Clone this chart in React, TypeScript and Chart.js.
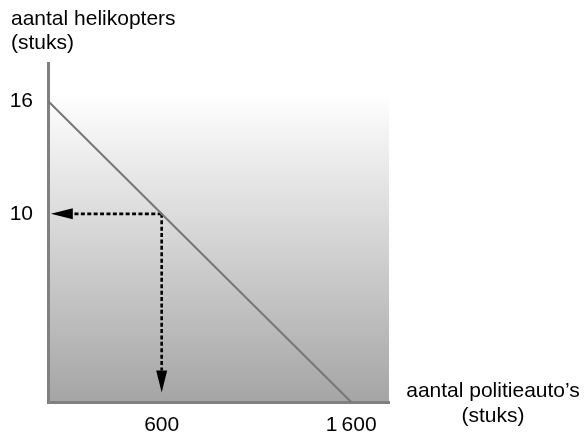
import React, { useEffect, useRef } from "react";
import { Chart, registerables } from "chart.js";

Chart.register(...registerables);

// ---- data ----
const X_MAX = 1800;
const Y_MAX = 18;
const X_TICKS = [600, 1600];
const X_TICK_LABELS = ["600", "1\u2009600"];
const Y_TICKS = [10, 16];
const Y_TICK_LABELS = ["10", "16"];
const FRONTIER_X = [0, 1600];
const FRONTIER_Y = [16, 0];
const CHOICE_X = 600;
const CHOICE_Y = 10;
const ARROW_TIP_X = 15;
const ARROW_TIP_Y = 0.5;
const SHADE_TOP = 16.4;
const Y_TITLE = ["aantal helikopters", "(stuks)"];
const X_TITLE = ["aantal politieauto\u2019s", "(stuks)"];

const FONT_FAMILY = "'Liberation Sans', Arial, Helvetica, sans-serif";
const FONT_SIZE = 21;

const shadePlugin = {
  id: "shade",
  beforeDraw(chart: any) {
    const { ctx } = chart;
    const xs = chart.scales.x;
    const ys = chart.scales.y;
    const l = xs.getPixelForValue(0);
    const r = xs.getPixelForValue(X_MAX);
    const t = ys.getPixelForValue(SHADE_TOP);
    const b = ys.getPixelForValue(0);
    const g = ctx.createLinearGradient(0, t, 0, b);
    g.addColorStop(0, "#ffffff");
    g.addColorStop(1, "#a5a5a5");
    ctx.save();
    ctx.fillStyle = g;
    ctx.fillRect(l, t, r - l, b - t);
    ctx.restore();
  },
};

const ARROW_LEN = 22;
const ARROW_HALF = 5.5;

function arrowGeom(meta: any) {
  const pts = meta.data;
  const p0 = pts[0];
  const p1 = pts[pts.length - 1];
  let dx = p1.x - p0.x;
  let dy = p1.y - p0.y;
  const len = Math.hypot(dx, dy) || 1;
  dx /= len;
  dy /= len;
  const bx = p1.x - dx * ARROW_LEN;
  const by = p1.y - dy * ARROW_LEN;
  return { tx: p1.x, ty: p1.y, dx, dy, nx: -dy, ny: dx, bx, by };
}

const arrowPlugin = {
  id: "arrowheads",
  beforeDatasetDraw(chart: any, args: any) {
    const ds = chart.data.datasets[args.index];
    if (!ds.arrow) return;
    const { ctx } = chart;
    const g = arrowGeom(args.meta);
    const B = 10000;
    ctx.save();
    ctx.beginPath();
    ctx.moveTo(g.bx + g.nx * B, g.by + g.ny * B);
    ctx.lineTo(g.bx + g.nx * B - g.dx * B, g.by + g.ny * B - g.dy * B);
    ctx.lineTo(g.bx - g.nx * B - g.dx * B, g.by - g.ny * B - g.dy * B);
    ctx.lineTo(g.bx - g.nx * B, g.by - g.ny * B);
    ctx.closePath();
    ctx.clip();
  },
  afterDatasetDraw(chart: any, args: any) {
    const ds = chart.data.datasets[args.index];
    if (!ds.arrow) return;
    const { ctx } = chart;
    ctx.restore();
    const g = arrowGeom(args.meta);
    ctx.save();
    ctx.fillStyle = "#000";
    ctx.beginPath();
    ctx.moveTo(g.tx, g.ty);
    ctx.lineTo(g.bx + g.nx * ARROW_HALF, g.by + g.ny * ARROW_HALF);
    ctx.lineTo(g.bx - g.nx * ARROW_HALF, g.by - g.ny * ARROW_HALF);
    ctx.closePath();
    ctx.fill();
    ctx.restore();
  },
};

const xTitlePlugin = {
  id: "xTitle",
  afterDraw(chart: any) {
    const { ctx, chartArea } = chart;
    ctx.save();
    ctx.fillStyle = "#000";
    ctx.font = `${FONT_SIZE}px ${FONT_FAMILY}`;
    ctx.textAlign = "center";
    ctx.textBaseline = "middle";
    const cx = chartArea.right + 104;
    X_TITLE.forEach((line, i) => {
      ctx.fillText(line, cx, chartArea.bottom - 10.5 + i * 25);
    });
    ctx.restore();
  },
};

export default function App() {
  const ref = useRef<HTMLCanvasElement | null>(null);

  useEffect(() => {
    if (!ref.current) return;
    Chart.defaults.font.family = FONT_FAMILY;
    const chart = new Chart(ref.current, {
      type: "scatter",
      data: {
        datasets: [
          {
            label: "frontier",
            data: FRONTIER_X.map((x, i) => ({ x, y: FRONTIER_Y[i] })),
            showLine: true,
            borderColor: "#777777",
            borderWidth: 2,
            pointRadius: 0,
            clip: false,
          },
          {
            label: "to y",
            data: [
              { x: CHOICE_X, y: CHOICE_Y },
              { x: ARROW_TIP_X, y: CHOICE_Y },
            ],
            showLine: true,
            borderColor: "#000",
            borderWidth: 2.6,
            borderDash: [4, 2.4],
            pointRadius: 0,
            arrow: true,
          } as any,
          {
            label: "to x",
            data: [
              { x: CHOICE_X, y: CHOICE_Y },
              { x: CHOICE_X, y: ARROW_TIP_Y },
            ],
            showLine: true,
            borderColor: "#000",
            borderWidth: 2.6,
            borderDash: [4, 2.4],
            pointRadius: 0,
            arrow: true,
          } as any,
        ],
      },
      options: {
        animation: false,
        responsive: true,
        maintainAspectRatio: false,
        layout: { padding: { left: 11, right: 198, top: 0, bottom: 0 } },
        plugins: {
          legend: { display: false },
          tooltip: { enabled: false },
          title: {
            display: true,
            text: Y_TITLE,
            align: "start",
            color: "#000",
            font: { family: FONT_FAMILY, size: FONT_SIZE, weight: "normal", lineHeight: 1.15 },
            padding: { top: 7, bottom: 8 },
          },
        },
        scales: {
          x: {
            type: "linear",
            min: 0,
            max: X_MAX,
            grid: { display: false, drawTicks: false },
            border: { display: true, color: "#808080", width: 3 },
            afterBuildTicks: (scale: any) => {
              scale.ticks = X_TICKS.map((v) => ({ value: v }));
            },
            afterFit: (scale: any) => {
              scale.height = 30;
            },
            ticks: {
              padding: 10.5,
              color: "#000",
              font: { family: FONT_FAMILY, size: FONT_SIZE },
              maxRotation: 0,
              autoSkip: false,
              callback: (v: any) => {
                const i = X_TICKS.indexOf(Number(v));
                return i >= 0 ? X_TICK_LABELS[i] : "";
              },
            },
          },
          y: {
            type: "linear",
            min: 0,
            max: Y_MAX,
            grid: { display: false, drawTicks: false },
            border: { display: true, color: "#808080", width: 3 },
            afterBuildTicks: (scale: any) => {
              scale.ticks = Y_TICKS.map((v) => ({ value: v }));
            },
            afterFit: (scale: any) => {
              scale.width = 37;
            },
            ticks: {
              padding: 15,
              color: "#000",
              font: { family: FONT_FAMILY, size: FONT_SIZE },
              autoSkip: false,
              callback: (v: any) => {
                const i = Y_TICKS.indexOf(Number(v));
                return i >= 0 ? Y_TICK_LABELS[i] : "";
              },
            },
          },
        },
      } as any,
      plugins: [shadePlugin, arrowPlugin, xTitlePlugin],
    });
    return () => chart.destroy();
  }, []);

  return (
    <div style={{ position: "fixed", left: 0, top: 0, width: 587, height: 432, background: "#fff" }}>
      <canvas ref={ref} />
    </div>
  );
}
